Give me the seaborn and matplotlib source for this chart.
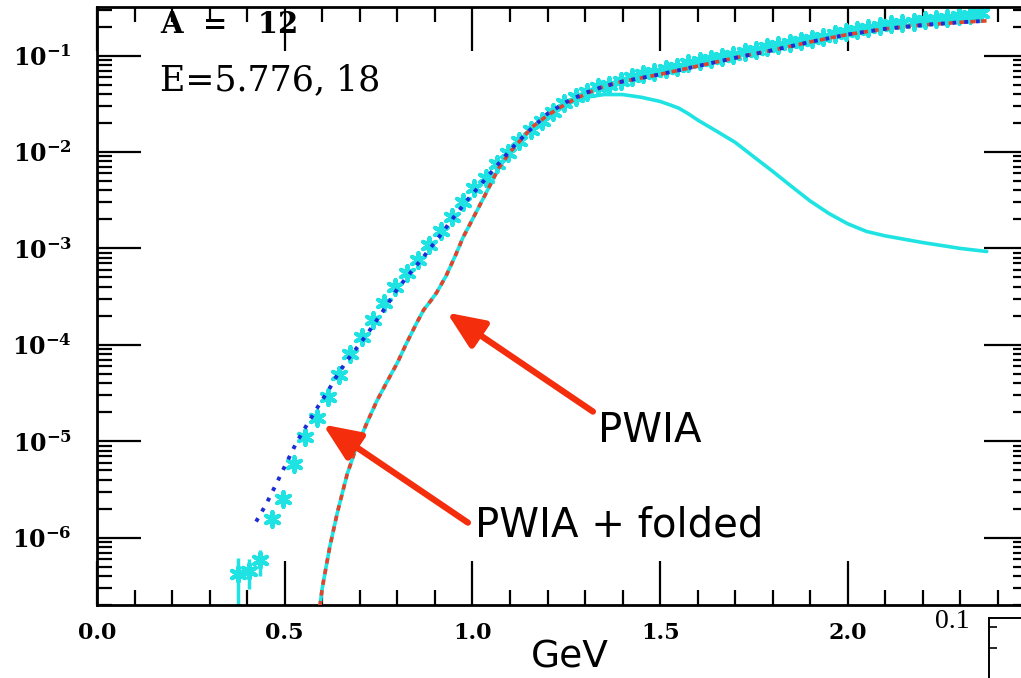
"""
Cross-section vs energy loss for A=12 at E=5.776 GeV, 18 deg:
data (stars) compared with PWIA and PWIA + folded curves.
"""
import numpy as np
import matplotlib
matplotlib.use("Agg")
import matplotlib.pyplot as plt
from matplotlib.ticker import (MultipleLocator, LogLocator, FixedLocator,
                               FuncFormatter, NullFormatter)
import seaborn as sns

# -- data points (stars) --
data_x = [0.375, 0.405, 0.435, 0.465, 0.495, 0.525, 0.555, 0.585, 0.615, 0.645,
          0.675, 0.705, 0.735, 0.765, 0.795, 0.825, 0.855, 0.885, 0.915, 0.945,
          0.975, 1.005, 1.035, 1.065, 1.095, 1.125, 1.155, 1.185, 1.215, 1.245,
          1.275, 1.305, 1.335, 1.365, 1.395, 1.425, 1.455, 1.485, 1.515, 1.545,
          1.575, 1.605, 1.635, 1.665, 1.695, 1.725, 1.755, 1.785, 1.815, 1.845,
          1.875, 1.905, 1.935, 1.965, 1.995, 2.025, 2.055, 2.085, 2.115, 2.145,
          2.175, 2.205, 2.235, 2.265, 2.295, 2.325, 2.355]
data_y = [4.2e-7, 4.5e-7, 5.9e-7, 1.55e-6, 2.5e-6, 5.8e-6, 1.1e-5, 1.75e-5, 2.9e-5, 4.9e-5,
          8.0e-5, 1.22e-4, 1.8e-4, 2.7e-4, 4.0e-4, 5.6e-4, 7.5e-4, 1.08e-3, 1.5e-3, 2.1e-3,
          3.0e-3, 4.2e-3, 5.4e-3, 7.6e-3, 9.8e-3, 1.3e-2, 1.7e-2, 2.1e-2, 2.6e-2, 3.2e-2,
          3.7e-2, 4.2e-2, 4.7e-2, 5.0e-2, 5.5e-2, 6.0e-2, 6.4e-2, 6.8e-2, 7.2e-2, 7.7e-2,
          8.4e-2, 8.8e-2, 9.2e-2, 9.7e-2, 0.102, 0.108, 0.115, 0.122, 0.128, 0.135,
          0.142, 0.149, 0.157, 0.166, 0.176, 0.185, 0.194, 0.203, 0.211, 0.218,
          0.225, 0.233, 0.240, 0.248, 0.256, 0.265, 0.275]
# error bars on the lowest points only (others smaller than the marker)
err_x = [0.375, 0.405, 0.435]
err_lo = [1.0e-7, 2.9e-7, 4.0e-7]
err_hi = [6.2e-7, 6.0e-7, 7.5e-7]

# -- PWIA + folded (blue dotted) --
fold_x = [0.416, 0.45, 0.479, 0.505, 0.532, 0.56, 0.589, 0.615, 0.638, 0.665,
          0.692, 0.72, 0.745, 0.77, 0.80, 0.83, 0.87, 0.91, 0.95, 0.99,
          1.03, 1.07, 1.11, 1.15, 1.20, 1.25, 1.30, 1.35, 1.40, 1.50,
          1.60, 1.70, 1.80, 1.90, 2.00, 2.10, 2.20, 2.30, 2.37]
fold_y = [1.3e-6, 2.2e-6, 3.7e-6, 6.0e-6, 9.8e-6, 1.5e-5, 2.3e-5, 3.3e-5, 4.7e-5, 6.8e-5,
          9.3e-5, 1.3e-4, 1.8e-4, 2.5e-4, 3.8e-4, 5.3e-4, 8.2e-4, 1.3e-3, 2.1e-3, 3.3e-3,
          5.0e-3, 7.6e-3, 1.15e-2, 1.65e-2, 2.5e-2, 3.3e-2, 4.1e-2, 4.8e-2, 5.4e-2, 6.4e-2,
          7.8e-2, 9.5e-2, 0.114, 0.139, 0.166, 0.190, 0.208, 0.222, 0.230]

# -- PWIA (red dashed) --
pwia_x = [0.59, 0.60, 0.62, 0.64, 0.666, 0.69, 0.719, 0.745, 0.772, 0.80,
          0.825, 0.852, 0.87, 0.89, 0.905, 0.93, 0.955, 0.975, 1.00, 1.04,
          1.07, 1.10, 1.13, 1.16, 1.20, 1.233, 1.27, 1.313, 1.35, 1.40,
          1.50, 1.60, 1.70, 1.80, 1.90, 2.00, 2.10, 2.20, 2.30, 2.37]
pwia_y = [1.5e-7, 3.0e-7, 8.0e-7, 1.8e-6, 4.5e-6, 8.5e-6, 1.55e-5, 2.6e-5, 4.1e-5, 6.5e-5,
          1.05e-4, 1.7e-4, 2.3e-4, 2.9e-4, 3.5e-4, 5.2e-4, 8.5e-4, 1.3e-3, 2.0e-3, 4.0e-3,
          6.8e-3, 1.0e-2, 1.35e-2, 1.83e-2, 2.4e-2, 2.9e-2, 3.5e-2, 4.2e-2, 4.8e-2, 5.4e-2,
          6.4e-2, 7.8e-2, 9.5e-2, 0.114, 0.139, 0.166, 0.190, 0.208, 0.222, 0.230]

# -- cyan solid curve --
qe_x = [0.59, 0.60, 0.62, 0.64, 0.666, 0.69, 0.719, 0.745, 0.772, 0.80,
        0.825, 0.852, 0.87, 0.89, 0.905, 0.93, 0.955, 0.975, 1.00, 1.04,
        1.07, 1.10, 1.13, 1.16, 1.20, 1.233, 1.27, 1.313, 1.35, 1.40,
        1.45, 1.50, 1.525, 1.55, 1.575, 1.60, 1.65, 1.70, 1.75, 1.80,
        1.85, 1.90, 1.95, 2.00, 2.05, 2.10, 2.20, 2.30, 2.37]
qe_y = [1.5e-7, 3.0e-7, 8.0e-7, 1.8e-6, 4.5e-6, 8.5e-6, 1.55e-5, 2.6e-5, 4.1e-5, 6.5e-5,
        1.05e-4, 1.7e-4, 2.3e-4, 2.9e-4, 3.5e-4, 5.2e-4, 8.5e-4, 1.3e-3, 2.0e-3, 4.0e-3,
        6.8e-3, 1.0e-2, 1.35e-2, 1.83e-2, 2.4e-2, 2.85e-2, 3.35e-2, 3.75e-2, 3.95e-2, 3.95e-2,
        3.7e-2, 3.35e-2, 3.1e-2, 2.85e-2, 2.5e-2, 2.15e-2, 1.65e-2, 1.26e-2, 8.9e-3, 6.3e-3,
        4.4e-3, 3.1e-3, 2.3e-3, 1.8e-3, 1.5e-3, 1.35e-3, 1.15e-3, 1.0e-3, 9.3e-4]

# y-axis decades that carry labels
decades = [1e-6, 1e-5, 1e-4, 1e-3, 1e-2, 1e-1]

# annotation arrows: (tail, head)
arrow_pwia = ((1.321, 2.03e-5), (0.932, 2.16e-4))
arrow_fold = ((0.988, 1.43e-6), (0.602, 1.49e-5))

CYAN = "#1fe3e3"
RED = "#e2432b"
BLUE = "#1c2cd6"
ARROW = "#f42d0c"

sns.set_theme(style="ticks")
plt.rcParams["font.family"] = ["DejaVu Sans"]
plt.rcParams["mathtext.fontset"] = "dejavuserif"
for key in ("text.color", "axes.labelcolor", "xtick.color", "ytick.color"):
    plt.rcParams[key] = "black"

fig = plt.figure(figsize=(10.21, 6.78), dpi=100)
ax = fig.add_axes([0.0950, 0.1077, 0.9119, 0.882])
ax.set_yscale("log")

# data stars + error bars
ax.vlines(err_x, err_lo, err_hi, color=CYAN, lw=2.5, zorder=2)
sns.scatterplot(x=data_x, y=data_y, marker=(6, 2, 0), s=110, color=CYAN,
                linewidth=3.0, ax=ax, zorder=2, legend=False)

# curves
sns.lineplot(x=qe_x, y=qe_y, color=CYAN, lw=2.6, sort=False, estimator=None,
             ax=ax, zorder=3, legend=False)
sns.lineplot(x=pwia_x, y=pwia_y, color=RED, lw=2.6, sort=False, estimator=None,
             linestyle=(0, (1.5, 1.5)), ax=ax, zorder=4, legend=False)
sns.lineplot(x=fold_x, y=fold_y, color=BLUE, lw=2.8, sort=False, estimator=None,
             linestyle=(1.5, (1.0, 2.0)), ax=ax, zorder=5, legend=False)

# arrows and labels
for (tail, head) in (arrow_pwia, arrow_fold):
    ax.annotate("", xy=head, xytext=tail,
                arrowprops=dict(arrowstyle="-|>,head_length=0.75,head_width=0.32",
                                mutation_scale=30, lw=4.5, color=ARROW,
                                shrinkA=0, shrinkB=0),
                zorder=6)
ax.text(1.334, 9.7e-6, "PWIA", fontsize=29, ha="left", va="baseline")
ax.text(1.007, 1.02e-6, "PWIA + folded", fontsize=29, ha="left", va="baseline")

ax.text(0.0677, 0.9565, "A  =   12", transform=ax.transAxes, fontsize=21,
        family="DejaVu Serif", weight="bold", va="baseline")
ax.text(0.0677, 0.861, "E=5.776, 18", transform=ax.transAxes, fontsize=25,
        family="DejaVu Serif", va="baseline")

# axes styling
ax.set_xlim(0, 2.48)
ax.set_ylim(2.0e-7, 0.32)
ax.xaxis.set_major_locator(MultipleLocator(0.5))
ax.xaxis.set_minor_locator(MultipleLocator(0.1))
ax.xaxis.set_major_formatter(FuncFormatter(lambda v, p: f"{v:.1f}"))
ax.yaxis.set_major_locator(FixedLocator(decades))
ax.yaxis.set_minor_locator(LogLocator(base=10, subs=np.arange(2, 10), numticks=12))
ax.yaxis.set_minor_formatter(NullFormatter())
ax.yaxis.set_major_formatter(FuncFormatter(
    lambda v, p: rf"$\mathbf{{10^{{{int(round(np.log10(v)))}}}}}$"))

ax.tick_params(which="both", direction="in", top=True, right=True,
               color="black", width=1.6)
ax.tick_params(which="major", length=32)
ax.tick_params(which="minor", length=11)
ax.tick_params(axis="x", which="major", pad=12, labelsize=16)
ax.tick_params(axis="y", which="major", pad=18, labelsize=17)
for lab in ax.get_xticklabels():
    lab.set_fontfamily("DejaVu Serif")
    lab.set_fontweight("bold")
for side in ax.spines.values():
    side.set_linewidth(2.0)
    side.set_color("black")

ax.set_xlabel("GeV", fontsize=27)
ax.xaxis.set_label_coords(0.508, -0.058)

# fragment of the neighbouring panel at the bottom right
fig.text(935 / 1021, 1 - 628 / 678, "0.1", fontsize=20, family="Liberation Serif")
ax2 = fig.add_axes([989 / 1021, 0.0, 60 / 1021, 60 / 678])
ax2.set_xlim(0, 1)
ax2.set_ylim(0, 1)
ax2.set_xticks([])
ax2.set_yticks([0.5, 0.85])
ax2.set_yticklabels([])
ax2.tick_params(axis="y", direction="in", length=6, width=1.2)
ax2.spines["right"].set_visible(False)
ax2.spines["bottom"].set_visible(False)
for s in ("left", "top"):
    ax2.spines[s].set_linewidth(1.4)
    ax2.spines[s].set_color("black")
ax2.patch.set_alpha(0)

fig.savefig("out.png", dpi=100)
plt.close(fig)
